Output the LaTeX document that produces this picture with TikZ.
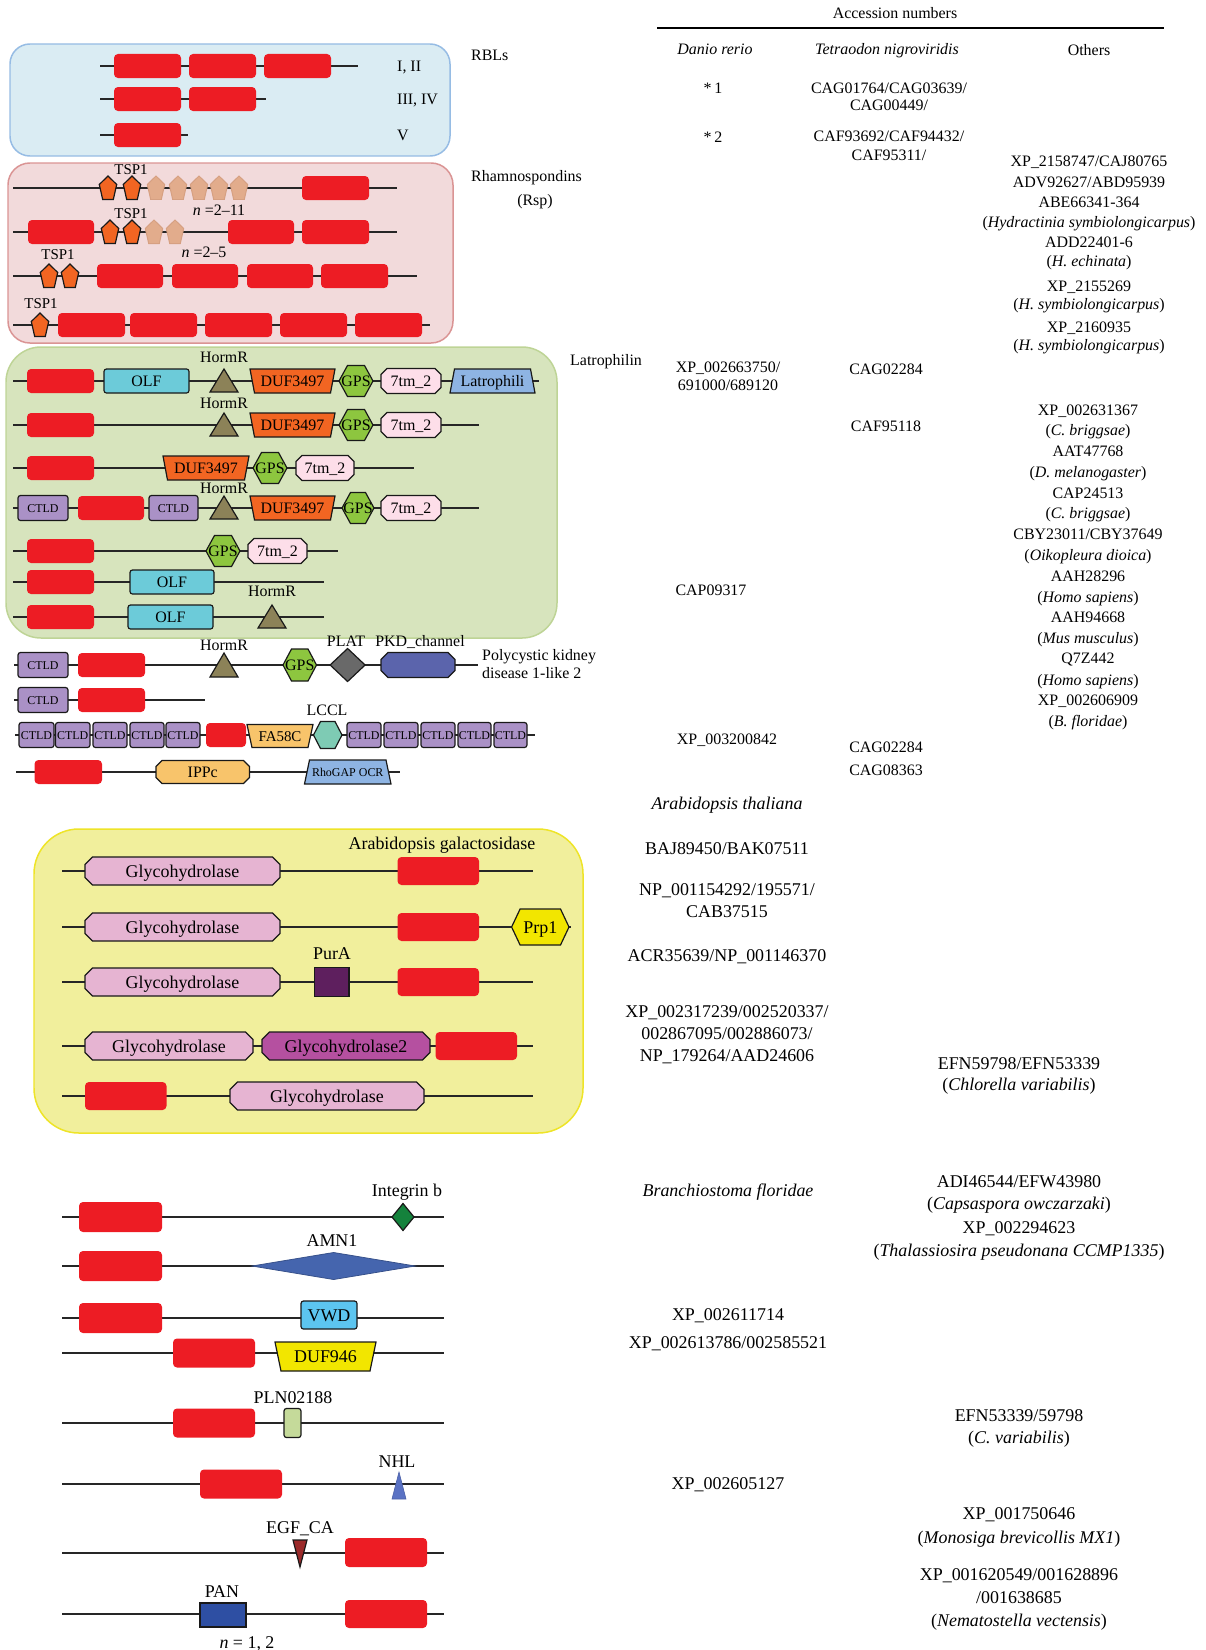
\documentclass[tikz,border=0pt]{standalone}
\usepackage{fontspec}
\setmainfont{Liberation Serif}
\newcounter{dn}
\definecolor{redc}{RGB}{237,28,36}
\definecolor{rblfill}{RGB}{218,236,243}
\definecolor{rbldraw}{RGB}{150,188,228}
\definecolor{rspfill}{RGB}{242,218,219}
\definecolor{rspdraw}{RGB}{218,148,148}
\definecolor{latfill}{RGB}{215,228,189}
\definecolor{latdraw}{RGB}{190,212,150}
\definecolor{yelfill}{RGB}{241,239,156}
\definecolor{yeldraw}{RGB}{238,228,40}
\definecolor{olfc}{RGB}{108,203,217}
\definecolor{hormc}{RGB}{140,130,88}
\definecolor{dufc}{RGB}{242,101,34}
\definecolor{gpsc}{RGB}{141,198,63}
\definecolor{tmc}{RGB}{253,222,233}
\definecolor{latc}{RGB}{142,180,227}
\definecolor{ctldc}{RGB}{170,145,198}
\definecolor{platc}{RGB}{105,105,105}
\definecolor{pkdc}{RGB}{91,100,172}
\definecolor{fac}{RGB}{248,196,107}
\definecolor{lcclc}{RGB}{126,203,180}
\definecolor{glyc}{RGB}{230,180,210}
\definecolor{gly2c}{RGB}{181,80,160}
\definecolor{prpc}{RGB}{242,230,0}
\definecolor{purc}{RGB}{94,31,94}
\definecolor{intc}{RGB}{20,130,60}
\definecolor{amnc}{RGB}{69,101,174}
\definecolor{vwdc}{RGB}{92,197,240}
\definecolor{plnc}{RGB}{197,218,154}
\definecolor{nhlc}{RGB}{90,114,196}
\definecolor{egfc}{RGB}{155,42,42}
\definecolor{panc}{RGB}{46,79,163}
\definecolor{pentc}{RGB}{242,101,34}
\definecolor{fadec}{RGB}{226,172,140}
\definecolor{fadeb}{RGB}{214,160,130}
\newcommand\fA{\fontsize{16}{19}\selectfont}
\newcommand\fB{\fontsize{18}{21}\selectfont}
\newcommand\fC{\fontsize{12}{14}\selectfont}
\newcommand\fD{\fontsize{15}{18}\selectfont}
% backbone: y x1 x2
\newcommand\BB[3]{\draw[bbone] (#2,#1) -- (#3,#1);}
% red box: x1 x2 y h
\newcommand\RB[4]{\fill[redbox] (#1,#3-#4) rectangle (#2,#3+#4);}
% rounded rectangle domain: x1 x2 y h fill style text
\newcommand\RR[7]{\draw[dom,fill=#5,rounded corners=2.5] (#1,#3-#4) rectangle (#2,#3+#4);
  \stepcounter{dn}\node[#6] (d\thedn) at ({(#1+#2)/2},#3) {#7};}
% octagon: x1 x2 y h c fill style text
\newcommand\OC[8]{\draw[dom,fill=#6] (#1,#3-#4+#5) -- (#1+#5,#3-#4) -- (#2-#5,#3-#4) -- (#2,#3-#4+#5) -- (#2,#3+#4-#5) -- (#2-#5,#3+#4) -- (#1+#5,#3+#4) -- (#1,#3+#4-#5) -- cycle;
  \stepcounter{dn}\node[#7] (d\thedn) at ({(#1+#2)/2},#3) {#8};}
% hexagon: x1 x2 y h d fill style text
\newcommand\HX[8]{\draw[dom,fill=#6] (#1,#3) -- (#1+#5,#3-#4) -- (#2-#5,#3-#4) -- (#2,#3) -- (#2-#5,#3+#4) -- (#1+#5,#3+#4) -- cycle;
  \stepcounter{dn}\node[#7] (d\thedn) at ({(#1+#2)/2},#3) {#8};}
% trapezoid wide at top: x1 x2 y h d fill style text
\newcommand\TT[8]{\draw[dom,fill=#6] (#1,#3-#4) -- (#2,#3-#4) -- (#2-#5,#3+#4) -- (#1+#5,#3+#4) -- cycle;
  \stepcounter{dn}\node[#7] (d\thedn) at ({(#1+#2)/2},#3) {#8};}
% trapezoid wide at bottom
\newcommand\TB[8]{\draw[dom,fill=#6] (#1+#5,#3-#4) -- (#2-#5,#3-#4) -- (#2,#3+#4) -- (#1,#3+#4) -- cycle;
  \stepcounter{dn}\node[#7] (d\thedn) at ({(#1+#2)/2},#3) {#8};}
% triangle: x1 x2 ybase yapex style
\newcommand\TRI[5]{\draw[#5] (#1,#3) -- (#2,#3) -- ({(#1+#2)/2},#4) -- cycle;}
% diamond: cx cy hw hh style
\newcommand\DM[5]{\draw[#5] (#1-#3,#2) -- (#1,#2-#4) -- (#1+#3,#2) -- (#1,#2+#4) -- cycle;}
% pentagon: cx cy style
\newcommand\PT[3]{\draw[#3] (#1,#2-12) -- (#1+8.7,#2-3.5) -- (#1+5.3,#2+11.5) -- (#1-5.3,#2+11.5) -- (#1-8.7,#2-3.5) -- cycle;}
% label: style x y text
\newcommand\LB[4]{\stepcounter{dn}\node[#1] (d\thedn) at (#2,#3) {#4};}
% CTLD: x1 x2 y
\newcommand\CT[3]{\RR{#1}{#2}{#3}{12.5}{ctldc}{t12}{CTLD}}
\begin{document}
\begin{tikzpicture}[x=1bp,y=-1bp,
  bbone/.style={draw=black!85,line width=1.3},
  redbox/.style={fill=redc,rounded corners=4},
  dom/.style={draw=black!90,line width=1.2},
  t16/.style={font=\fA,inner sep=0pt,anchor=base,yshift=-5.4pt},
  t18/.style={font=\fB,inner sep=0pt,anchor=base,yshift=-6.1pt},
  t12/.style={font=\fC,inner sep=0pt,anchor=base,yshift=-4.1pt},
  t15/.style={font=\fD,inner sep=0pt,anchor=base,yshift=-5.1pt},
  w16/.style={t16,anchor=base west},
  pento/.style={dom,fill=pentc},
  pentf/.style={draw=fadeb,line width=1,fill=fadec},
  sect/.style={line width=1.5}]
\useasboundingbox (0,0) rectangle (1205,1650);
% ---------------- section backgrounds
\draw[sect,fill=rblfill,draw=rbldraw,rounded corners=20] (10,44) rectangle (450,156);
\draw[sect,fill=rspfill,draw=rspdraw,rounded corners=22] (8,163) rectangle (453,343);
\draw[sect,fill=latfill,draw=latdraw,rounded corners=35] (6,347) rectangle (557,638);
\draw[sect,fill=yelfill,draw=yeldraw,rounded corners=45] (34,829) rectangle (583,1133);
% ---------------- RBLs
\BB{66}{100}{358}\BB{99}{100}{266}\BB{135}{100}{188}
\RB{114}{181}{66}{12}\RB{189}{256}{66}{12}\RB{264}{331}{66}{12}
\RB{114}{181}{99}{12}\RB{189}{256}{99}{12}
\RB{114}{181}{135}{12}
\LB{w16}{397}{66}{I, II}
\LB{w16}{397}{99}{III, IV}
\LB{w16}{397}{135}{V}
\LB{w16}{471}{55}{RBLs}
% ---------------- Rhamnospondins
\BB{188}{13}{397}\BB{232}{13}{397}\BB{276}{13}{417}\BB{325}{13}{430}
\PT{108}{188}{pento}\PT{132}{188}{pento}
\PT{156}{188}{pentf}\PT{178}{188}{pentf}\PT{199}{188}{pentf}\PT{219}{188}{pentf}\PT{239}{188}{pentf}
\RB{302}{369}{188}{12}
\LB{t15}{131}{169}{TSP1}
\LB{t16}{219}{210}{\textit{n} =2--11}
\RB{28}{94}{232}{12}
\PT{110}{232}{pento}\PT{132}{232}{pento}
\PT{154}{232}{pentf}\PT{175}{232}{pentf}
\RB{228}{294}{232}{12}\RB{302}{369}{232}{12}
\LB{t15}{131}{213}{TSP1}
\LB{t16}{204}{252}{\textit{n} =2--5}
\PT{49}{276}{pento}\PT{70}{276}{pento}
\RB{97}{163}{276}{12}\RB{172}{238}{276}{12}\RB{247}{313}{276}{12}\RB{321}{388}{276}{12}
\LB{t15}{58}{254}{TSP1}
\PT{40}{325}{pento}
\RB{58}{125}{325}{12}\RB{130}{197}{325}{12}\RB{205}{272}{325}{12}\RB{280}{347}{325}{12}\RB{355}{422}{325}{12}
\LB{t15}{41}{303}{TSP1}
\LB{w16}{471}{176}{Rhamnospondins}
\LB{t16}{535}{200}{(Rsp)}
% ---------------- Latrophilin
\BB{381}{13}{539}\BB{425}{13}{479}\BB{468}{13}{414}\BB{508}{13}{479}
\BB{551}{13}{338}\BB{582}{13}{324}\BB{617}{13}{324}
% row 1
\RB{27}{94}{381}{12}
\RR{104}{189}{381}{12}{olfc}{t16}{OLF}
\TRI{210}{238}{392}{369}{dom,fill=hormc}
\LB{t16}{224}{357}{HormR}
\TT{250}{335}{381}{12}{4.5}{dufc}{t16}{DUF3497}
\HX{339}{373}{381}{15.5}{8.5}{gpsc}{t16}{GPS}
\OC{381}{441}{381}{12.5}{6}{tmc}{t16}{7tm\_2}
\TB{450}{535}{381}{12}{4.5}{latc}{t16}{Latrophili}
\LB{w16}{570}{360}{Latrophilin}
% row 2
\RB{27}{94}{425}{12}
\TRI{210}{238}{436}{413}{dom,fill=hormc}
\LB{t16}{224}{403}{HormR}
\TT{250}{335}{425}{12}{4.5}{dufc}{t16}{DUF3497}
\HX{339}{373}{425}{15.5}{8.5}{gpsc}{t16}{GPS}
\OC{381}{441}{425}{12.5}{6}{tmc}{t16}{7tm\_2}
% row 3
\RB{27}{94}{468}{12}
\TT{163}{249}{468}{12}{4.5}{dufc}{t16}{DUF3497}
\HX{253}{287}{468}{15.5}{8.5}{gpsc}{t16}{GPS}
\OC{296}{354}{468}{12.5}{6}{tmc}{t16}{7tm\_2}
% row 4
\CT{18}{68}{508}
\RB{78}{144}{508}{12}
\CT{149}{198}{508}
\TRI{210}{238}{519}{496}{dom,fill=hormc}
\LB{t16}{224}{488}{HormR}
\TT{250}{335}{508}{12}{4.5}{dufc}{t16}{DUF3497}
\HX{342}{374}{508}{15.5}{8.5}{gpsc}{t16}{GPS}
\OC{381}{441}{508}{12.5}{6}{tmc}{t16}{7tm\_2}
% row 5
\RB{27}{94}{551}{12}
\HX{206}{240}{551}{15.5}{8.5}{gpsc}{t16}{GPS}
\OC{248}{307}{551}{12.5}{6}{tmc}{t16}{7tm\_2}
% row 6
\RB{27}{94}{582}{12}
\RR{130}{214}{582}{12}{olfc}{t16}{OLF}
% row 7
\RB{27}{94}{617}{12}
\RR{128}{213}{617}{12}{olfc}{t16}{OLF}
\TRI{258}{286}{628}{605}{dom,fill=hormc}
\LB{t16}{272}{591}{HormR}
% ---------------- PKD and others
\BB{665}{14}{478}\BB{700}{14}{205}\BB{735}{15}{535}\BB{772}{16}{400}
\CT{18}{68}{665}
\RB{78}{145}{665}{12}
\TRI{210}{238}{677}{653}{dom,fill=hormc}
\LB{t16}{224}{645}{HormR}
\HX{283}{316.5}{665}{16}{8.5}{gpsc}{t16}{GPS}
\DM{347.6}{665}{17.5}{16.5}{dom,fill=platc}
\LB{t16}{346}{641}{PLAT}
\OC{381}{455}{665}{12.5}{7}{pkdc}{t16}{}
\LB{t16}{420}{641}{PKD\_channel}
\LB{w16}{482}{655}{Polycystic kidney}
\LB{w16}{482}{673}{disease 1-like 2}
\CT{18}{68}{700}
\RB{78}{145}{700}{12}
\CT{19}{54}{735}\CT{55.5}{90}{735}\CT{93}{127}{735}\CT{130}{164}{735}\CT{166}{200}{735}
\RB{206}{246}{735}{12}
\TT{247}{313}{736}{11.5}{5}{fac}{t15}{FA58C}
\HX{313.5}{342}{735}{13.5}{7}{lcclc}{t16}{}
\LB{t16}{327}{710}{LCCL}
\CT{347}{381}{735}\CT{384}{418}{735}\CT{421}{455}{735}\CT{458}{491}{735}\CT{494}{527}{735}
\RB{34.5}{102}{772}{12}
\OC{156}{249.5}{772}{11.5}{6}{fac}{t16}{IPPc}
\TB{304.5}{391}{772}{12}{5}{latc}{t12}{RhoGAP OCR}
% ---------------- right table (upper)
\draw[line width=1.2] (657,28) -- (1164,28);
\LB{t16}{895}{13}{Accession numbers}
\LB{t16}{715}{49}{\textit{Danio rerio}}
\LB{t16}{887}{49}{\textit{Tetraodon nigroviridis}}
\LB{t16}{1089}{50}{Others}
\LB{t16}{713}{88}{*\,1}
\LB{t16}{889}{88}{CAG01764/CAG03639/}
\LB{t16}{889}{105}{CAG00449/}
\LB{t16}{713}{137}{*\,2}
\LB{t16}{889}{136}{CAF93692/CAF94432/}
\LB{t16}{889}{155}{CAF95311/}
\LB{t16}{1089}{161}{XP\_2158747/CAJ80765}
\LB{t16}{1089}{182}{ADV92627/ABD95939}
\LB{t16}{1089}{202}{ABE66341-364}
\LB{t16}{1089}{222}{(\textit{Hydractinia symbiolongicarpus})}
\LB{t16}{1089}{242}{ADD22401-6}
\LB{t16}{1089}{261}{(\textit{H. echinata})}
\LB{t16}{1089}{286}{XP\_2155269}
\LB{t16}{1089}{304}{(\textit{H. symbiolongicarpus})}
\LB{t16}{1089}{327}{XP\_2160935}
\LB{t16}{1089}{345}{(\textit{H. symbiolongicarpus})}
\LB{t16}{728}{367}{XP\_002663750/}
\LB{t16}{728}{385}{691000/689120}
\LB{t16}{886}{369}{CAG02284}
\LB{t16}{886}{426}{CAF95118}
\LB{t16}{1088}{410}{XP\_002631367}
\LB{t16}{1088}{430}{(\textit{C. briggsae})}
\LB{t16}{1088}{451}{AAT47768}
\LB{t16}{1088}{472}{(\textit{D. melanogaster})}
\LB{t16}{1088}{493}{CAP24513}
\LB{t16}{1088}{513}{(\textit{C. briggsae})}
\LB{t16}{1088}{534}{CBY23011/CBY37649}
\LB{t16}{1088}{555}{(\textit{Oikopleura dioica})}
\LB{t16}{1088}{576}{AAH28296}
\LB{t16}{1088}{597}{(\textit{Homo sapiens})}
\LB{t16}{1088}{617}{AAH94668}
\LB{t16}{1088}{638}{(\textit{Mus musculus})}
\LB{t16}{1088}{658}{Q7Z442}
\LB{t16}{1088}{680}{(\textit{Homo sapiens})}
\LB{t16}{1088}{700}{XP\_002606909}
\LB{t16}{1088}{721}{(\textit{B. floridae})}
\LB{t16}{711}{590}{CAP09317}
\LB{t16}{727}{739}{XP\_003200842}
\LB{t16}{886}{747}{CAG02284}
\LB{t16}{886}{770}{CAG08363}
% ---------------- Arabidopsis galactosidase
\BB{871}{62}{533}\BB{927}{62}{571}\BB{982}{62}{533}\BB{1046}{62}{533}\BB{1096}{62}{533}
\LB{t18}{442}{843}{Arabidopsis galactosidase}
\OC{85}{280}{871}{14}{7.5}{glyc}{t18}{Glycohydrolase}
\RB{397.5}{479}{871}{14}
\OC{85}{280}{927}{14}{7.5}{glyc}{t18}{Glycohydrolase}
\RB{397.5}{479}{927}{14}
\HX{511.6}{569}{927}{18}{8.5}{prpc}{t18}{Prp1}
\OC{85}{280}{982}{14}{7.5}{glyc}{t18}{Glycohydrolase}
\draw[dom,fill=purc] (314.5,967.5) rectangle (349,996.5);
\LB{t18}{332}{953}{PurA}
\RB{397.5}{479}{982}{14}
\OC{85}{253}{1046}{14}{7.5}{glyc}{t18}{Glycohydrolase}
\OC{262}{430}{1046}{14}{7.5}{gly2c}{t18}{Glycohydrolase2}
\RB{435.6}{517}{1046}{14}
\RB{85}{166.5}{1096}{14}
\OC{230}{424}{1096}{14}{7.5}{glyc}{t18}{Glycohydrolase}
% ---------------- right table (lower)
\LB{t18}{727}{803}{\textit{Arabidopsis thaliana}}
\LB{t18}{727}{848}{BAJ89450/BAK07511}
\LB{t18}{727}{889}{NP\_001154292/195571/}
\LB{t18}{727}{911}{CAB37515}
\LB{t18}{727}{955}{ACR35639/NP\_001146370}
\LB{t18}{727}{1011}{XP\_002317239/002520337/}
\LB{t18}{727}{1033}{002867095/002886073/}
\LB{t18}{727}{1055}{NP\_179264/AAD24606}
\LB{t18}{1019}{1063}{EFN59798/EFN53339}
\LB{t18}{1019}{1084}{(\textit{Chlorella variabilis})}
\LB{t18}{728}{1190}{\textit{Branchiostoma floridae}}
\LB{t18}{1019}{1181}{ADI46544/EFW43980}
\LB{t18}{1019}{1203}{(\textit{Capsaspora owczarzaki})}
\LB{t18}{1019}{1227}{XP\_002294623}
\LB{t18}{1019}{1250}{(\textit{Thalassiosira pseudonana CCMP1335})}
\LB{t18}{728}{1314}{XP\_002611714}
\LB{t18}{728}{1342}{XP\_002613786/002585521}
\LB{t18}{1019}{1415}{EFN53339/59798}
\LB{t18}{1019}{1437}{(\textit{C. variabilis})}
\LB{t18}{728}{1483}{XP\_002605127}
\LB{t18}{1019}{1513}{XP\_001750646}
\LB{t18}{1019}{1537}{(\textit{Monosiga brevicollis MX1})}
\LB{t18}{1019}{1574}{XP\_001620549/001628896}
\LB{t18}{1019}{1597}{/001638685}
\LB{t18}{1019}{1620}{(\textit{Nematostella vectensis})}
% ---------------- bottom section
\BB{1217}{62}{444}\BB{1266}{62}{444}\BB{1318}{62}{444}\BB{1353}{62}{444}
\BB{1423}{62}{444}\BB{1484}{62}{444}\BB{1553}{62}{444}\BB{1614}{62}{444}
\RB{79}{162}{1217}{15}
\DM{403}{1217}{11}{13.5}{dom,fill=intc}
\LB{t18}{407}{1190}{Integrin b}
\RB{79}{162}{1266}{15}
\DM{333.6}{1266}{81.5}{13.5}{draw=amnc!80!black,line width=0.8,fill=amnc}
\LB{t18}{332}{1240}{AMN1}
\RB{79}{162}{1318}{15}
\RR{301}{357}{1315}{14}{vwdc}{t18}{VWD}
\RB{173}{255}{1353}{14.5}
\TT{275}{376}{1356.5}{14.5}{6}{prpc}{t18}{DUF946}
\RB{173}{255}{1423}{14.5}
\draw[dom,fill=plnc,rounded corners=2.5] (284,1408.5) rectangle (301,1437.5);
\LB{t18}{293}{1397}{PLN02188}
\RB{200}{282}{1484}{14.5}
\TRI{392}{406}{1499}{1472}{fill=nhlc,draw=nhlc!85!black,line width=0.6}
\LB{t18}{397}{1461}{NHL}
\TRI{293}{307}{1540}{1567}{dom,fill=egfc}
\LB{t18}{300}{1527}{EGF\_CA}
\RB{345}{427}{1552.5}{14.5}
\draw[dom,fill=panc] (200,1603) rectangle (246,1627);
\LB{t18}{222}{1591}{PAN}
\RB{345}{427}{1614}{14}
\LB{t18}{247}{1642}{\textit{n} = 1, 2}
\end{tikzpicture}
\end{document}
